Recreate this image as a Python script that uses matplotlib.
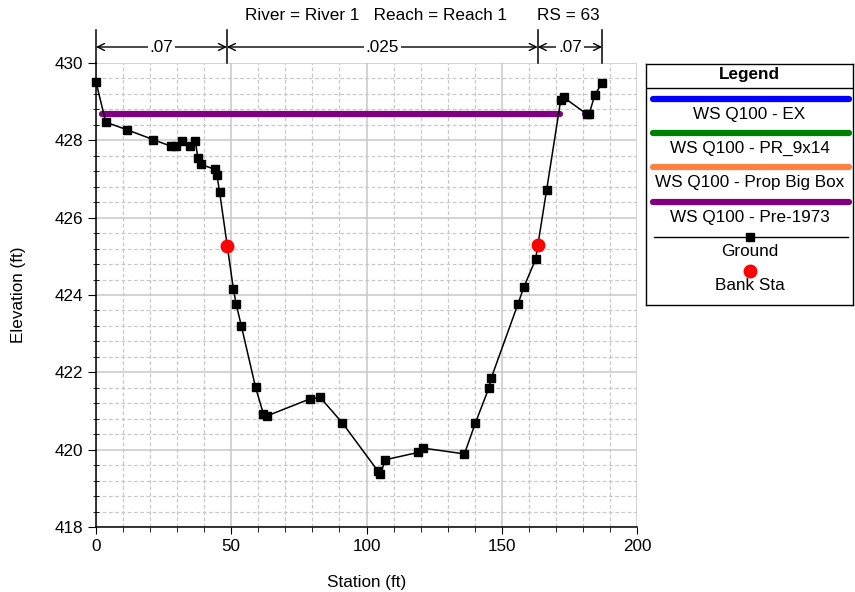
import matplotlib
matplotlib.use("Agg")
import matplotlib.pyplot as plt
import matplotlib.transforms as mtransforms
from matplotlib.ticker import MultipleLocator
import numpy as np

plt.rcParams["font.family"] = ["Liberation Sans", "DejaVu Sans"]

# ground survey points (station ft, elevation ft)
ground_sta = [0.0, 3.6, 11.6, 21.1, 27.6, 29.6, 31.7, 34.8, 36.7, 37.7, 38.7,
              43.9, 44.7, 45.7, 50.8, 51.8, 53.7, 59.0, 61.9, 63.1, 79.0, 82.9,
              91.1, 104.3, 105.1, 107.0, 119.2, 121.0, 136.2, 140.2, 145.2,
              146.1, 156.0, 158.2, 162.5, 166.6, 171.8, 172.9, 181.4, 182.3,
              184.4, 187.1]
ground_elev = [429.51, 428.47, 428.27, 428.02, 427.85, 427.85, 427.97, 427.85,
               427.98, 427.54, 427.38, 427.25, 427.10, 426.66, 424.15, 423.77,
               423.21, 421.61, 420.92, 420.87, 421.31, 421.35, 420.69, 419.44,
               419.37, 419.74, 419.93, 420.04, 419.89, 420.68, 421.59, 421.85,
               423.77, 424.21, 424.92, 426.72, 429.04, 429.11, 428.68, 428.68,
               429.17, 429.49]

# bank stations
bank_sta = [48.4, 163.3]
bank_elev = [425.27, 425.29]

# water surface Pre-1973 (two wetted segments)
ws_elev = 428.69
ws_segments = [(2.1, 171.6), (180.9, 182.8)]

# manning's n zones
n_breaks = [0.0, 48.4, 163.3, 187.1]
n_values = [".07", ".025", ".07"]

legend_names = ["WS Q100 - EX", "WS Q100 - PR_9x14",
                "WS Q100 - Prop Big Box", "WS Q100 - Pre-1973"]
legend_colors = ["#0000ff", "#008000", "#ff8040", "#800080"]

fs = 12.3

fig = plt.figure(figsize=(8.55, 5.92), dpi=100)
ax = fig.add_axes([96/855, 1-527/592, 541/855, 464/592])

# grid
ax.set_xlim(0, 200)
ax.set_ylim(418, 430)
ax.xaxis.set_major_locator(MultipleLocator(50))
ax.xaxis.set_minor_locator(MultipleLocator(10))
ax.yaxis.set_major_locator(MultipleLocator(2))
ax.yaxis.set_minor_locator(MultipleLocator(0.4))
ax.grid(True, which="major", color="#c8c8c8", linewidth=1.1, linestyle="-")
ax.grid(True, which="minor", color="#c8c8c8", linewidth=0.9, linestyle=(0, (3, 2)))
ax.set_axisbelow(True)
for s in ["top", "right"]:
    ax.spines[s].set_visible(False)
for s in ["left", "bottom"]:
    ax.spines[s].set_linewidth(1.1)
ax.tick_params(axis="x", which="major", direction="out", length=5, labelsize=fs)
ax.tick_params(axis="x", which="minor", direction="out", length=3.5)
ax.tick_params(axis="y", which="major", direction="out", length=6, labelsize=fs)
ax.tick_params(axis="y", which="minor", direction="inout", length=5)

# water surface
for x0, x1 in ws_segments:
    ax.plot([x0, x1], [ws_elev, ws_elev], color=legend_colors[3], linewidth=4.5,
            solid_capstyle="round", zorder=3)

# ground
ax.plot(ground_sta, ground_elev, color="black", linewidth=1.1, marker="s",
        markersize=5.8, zorder=4, clip_on=False)
ax.plot(bank_sta, bank_elev, linestyle="", marker="o", color="red",
        markersize=9, zorder=5)

ax.set_xlabel("Station (ft)", fontsize=fs, labelpad=15)
ax.set_ylabel("Elevation (ft)", fontsize=fs, labelpad=20)

# manning's n dimension lines above the plot
trans = mtransforms.blended_transform_factory(ax.transData, ax.transAxes)
y_arrow = (527 - 47) / 464
for xb in n_breaks:
    ax.plot([xb, xb], [1.0, (527 - 30) / 464], color="black", linewidth=1.1,
            transform=trans, clip_on=False)
for i, lab in enumerate(n_values):
    x0, x1 = n_breaks[i], n_breaks[i + 1]
    ax.annotate("", xy=(x0, y_arrow), xytext=(x1, y_arrow), xycoords=trans,
                textcoords=trans,
                arrowprops=dict(arrowstyle="<->,head_length=0.5,head_width=0.25",
                                color="black", lw=1, shrinkA=0, shrinkB=0))
    ax.text((x0 + x1) / 2, y_arrow, lab, transform=trans, ha="center",
            va="center", fontsize=fs,
            bbox=dict(facecolor="white", edgecolor="none", pad=1.5))

fig.text(245/855, 1-15/592, "River = River 1   Reach = Reach 1", fontsize=fs,
         ha="left", va="center")
fig.text(537/855, 1-15/592, "RS = 63", fontsize=fs, ha="left", va="center")

# legend box
lg = fig.add_axes([646/855, 1-305/592, 207/855, 241/592])
lg.set_xlim(646, 853)
lg.set_ylim(305, 64)
lg.set_xticks([])
lg.set_yticks([])
for s in lg.spines.values():
    s.set_linewidth(1)
lg.plot([646, 853], [88, 88], color="black", linewidth=1)
lg.text(749.5, 75, "Legend", fontsize=fs, fontweight="bold", ha="center", va="center")
line_y = [98.5, 133, 167, 202]
text_y = [114.5, 148.5, 183, 217.5]
for name, col, ly, ty in zip(legend_names, legend_colors, line_y, text_y):
    lg.plot([653, 849], [ly, ly], color=col, linewidth=4.5, solid_capstyle="round")
    lg.text(749.5, ty, name, fontsize=fs, ha="center", va="center")
lg.plot([654, 848], [236.5, 236.5], color="black", linewidth=1)
lg.plot([750], [236.5], marker="s", color="black", markersize=5.5)
lg.text(749.5, 251, "Ground", fontsize=fs, ha="center", va="center")
lg.plot([750], [270.5], marker="o", color="red", markersize=9)
lg.text(749.5, 285.5, "Bank Sta", fontsize=fs, ha="center", va="center")

fig.savefig("out.png", dpi=100)
